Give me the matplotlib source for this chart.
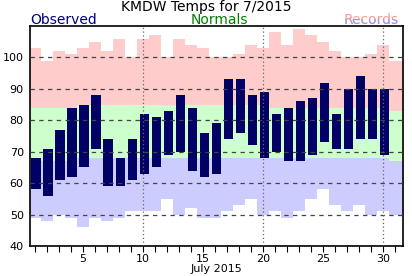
import numpy as np
import matplotlib
matplotlib.use("Agg")
import matplotlib.pyplot as plt
from matplotlib.patches import Rectangle

# Data (deg F), July 2015, KMDW
days = np.arange(1, 32)
obs_days = np.arange(1, 31)
obs_high = [68, 71, 77, 84, 85, 88, 74, 68, 74, 82, 81, 83, 88, 84, 76,
            79, 93, 93, 88, 89, 82, 84, 86, 87, 92, 82, 90, 94, 90, 90]
obs_low = [58, 56, 61, 62, 65, 71, 59, 59, 61, 63, 65, 69, 70, 64, 62,
           63, 74, 76, 72, 68, 70, 67, 67, 69, 73, 71, 71, 74, 74, 69]
rec_high = [103, 99, 102, 101, 103, 105, 102, 106, 100, 106, 107, 100, 106, 104, 103,
            100, 100, 101, 104, 103, 108, 104, 109, 107, 105, 102, 100, 100, 101, 104, 99]
rec_low = [49, 48, 50, 49, 46, 49, 48, 49, 51, 51, 51, 55, 50, 52, 49,
           49, 51, 53, 55, 50, 51, 49, 51, 55, 58, 53, 51, 53, 50, 51, 50]
norm_high = [84] * 4 + [85] * 16 + [84] * 10 + [83]
norm_low = [67] * 4 + [68] * 26 + [67]

fig = plt.figure(figsize=(4.12, 2.76), dpi=100)
ax = fig.add_axes([30 / 412, 30 / 276, 373 / 412, 220 / 276])

# step edges for the daily bands
edges = np.append(days - 0.47, days[-1] + 1)
def ext(v):
    return np.append(v, v[-1])

ax.fill_between(edges, ext(norm_high), ext(rec_high), step="post", color="#ffcccc", lw=0, zorder=1)
ax.fill_between(edges, ext(norm_low), ext(norm_high), step="post", color="#ccffcc", lw=0, zorder=1)
ax.fill_between(edges, ext(rec_low), ext(norm_low), step="post", color="#ccccff", lw=0, zorder=1)

ax.bar(obs_days - 0.27, np.array(obs_high) - np.array(obs_low), bottom=obs_low,
       width=0.78, align="edge", color="#000066", zorder=2)

for y in range(50, 110, 10):
    ax.axhline(y, color="#444444", lw=0.9, ls=(0, (3.5, 3.5)), zorder=3)
for d in [10, 20, 30]:
    ax.axvline(d, color="#666666", lw=0.9, ls=(0, (1, 2)), zorder=3)

ax.set_xlim(0.61, 31.67)
ax.set_ylim(40, 110)
ax.set_yticks(range(40, 110, 10))
ax.set_xticks([5, 10, 15, 20, 25, 30])
ax.set_xticks(days, minor=True)
ax.tick_params(axis="y", length=0, pad=4.5, labelsize=8)
ax.tick_params(axis="x", which="both", direction="out", length=4, width=0.8, pad=1.5, labelsize=8)
ax.set_xlabel("July 2015", fontsize=8, labelpad=0)
for s in ax.spines.values():
    s.set_linewidth(1.2)

fig.text(206.5 / 412, (276 - 11) / 276, "KMDW Temps for 7/2015", ha="center", va="baseline",
         fontsize=10, color="black")
fig.text(30 / 412, (276 - 24) / 276, "Observed", ha="left", va="baseline", fontsize=10, color="#000080")
fig.text(219 / 412, (276 - 24) / 276, "Normals", ha="center", va="baseline", fontsize=10, color="#008000")
fig.text(399 / 412, (276 - 24) / 276, "Records", ha="right", va="baseline", fontsize=10, color="#ff9999")
t2 = fig.text(399 / 412, (276 - 24) / 276, "Records", ha="right", va="baseline", fontsize=10, color="#9999ff")
clip = Rectangle((0, 0), 1, (276 - 19) / 276, transform=fig.transFigure)
t2.set_clip_path(clip)

fig.savefig("out.png", dpi=100)
